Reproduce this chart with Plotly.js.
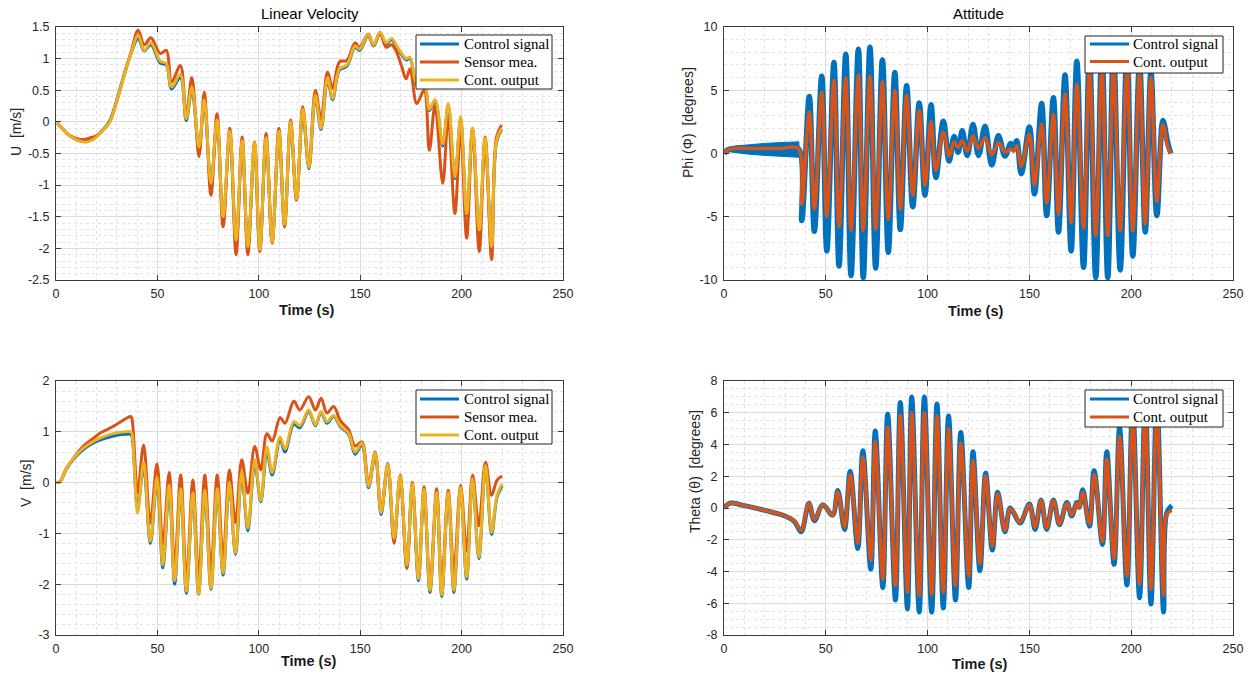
<!DOCTYPE html>
<html><head><meta charset="utf-8">
<script src="https://cdn.plot.ly/plotly-3.0.1.min.js"></script>
<style>html,body{margin:0;padding:0;background:#fff;}#chart{width:1252px;height:675px;}</style>
</head><body><div id="chart"></div>
<script>
// ---------- Linear velocity U ----------
const tU = [0,3,6,10,13.5,17,20,23,26.5,30,33.5,37,40.5,43.5,46.8,51.4,54.4,57,61.3,64.2,67,70.5,73.1,76.4,79.4,82.4,85.7,88.8,91.8,94.6,97.9,100.5,103.6,106.6,109.9,112.7,115.7,118.6,121.7,124.7,127.9,130.7,133.9,136.4,139.8,143.4,147.5,149.7,154,156.6,159.8,162.8,165.5,168,170.5,172.6,174.6,177.9,181.5,184.1,186.9,190.7,193.4,196.7,199.5,202.5,205.4,208.7,211.6,214.8,217.2,219.7];
const uSen = [0,-0.1,-0.2,-0.26,-0.28,-0.25,-0.22,-0.14,0.0,0.33,
 0.72,1.1,1.45,1.22,1.33,1.08,1.13,0.63,0.89,0.1,
 0.7,-0.55,0.47,-1.16,0.13,-1.66,-0.1,-2.1,-0.24,-2.1,
 -0.32,-2.05,-0.18,-1.92,-0.1,-1.66,0.03,-1.24,0.24,-0.71,
 0.5,0.05,0.79,0.53,0.95,0.97,1.25,1.18,1.39,1.21,
 1.4,1.18,1.22,1.1,0.87,0.68,0.84,0.29,0.5,-0.45,
 0.26,-0.97,0.08,-1.45,-0.13,-1.84,-0.1,-2.05,-0.24,-2.18,
 -0.24,-0.05];
const uOut = [0,-0.1,-0.2,-0.28,-0.32,-0.3,-0.24,-0.14,0.0,0.33,
 0.72,1.08,1.37,1.13,1.25,0.96,0.92,0.55,0.75,0.05,
 0.55,-0.4,0.35,-0.97,0.03,-1.5,-0.15,-1.87,-0.3,-1.97,
 -0.33,-2.02,-0.25,-1.9,-0.15,-1.62,0.0,-1.22,0.2,-0.72,
 0.42,-0.1,0.7,0.37,0.84,0.9,1.2,1.15,1.38,1.22,
 1.42,1.25,1.32,1.2,1.08,1.0,1.02,0.6,0.62,0.2,
 0.35,-0.35,0.29,-0.87,0.08,-1.45,-0.1,-1.71,-0.26,-1.97,
 -0.3,-0.1];
const uCtl = [0,-0.1,-0.2,-0.28,-0.31,-0.29,-0.23,-0.13,0.02,0.35,
 0.74,1.08,1.32,1.12,1.22,0.93,0.9,0.52,0.7,0.02,
 0.5,-0.42,0.3,-0.98,0.0,-1.52,-0.2,-1.9,-0.35,-2.0,
 -0.38,-2.03,-0.3,-1.9,-0.2,-1.63,-0.05,-1.22,0.15,-0.74,
 0.38,-0.12,0.66,0.35,0.82,0.88,1.18,1.13,1.36,1.2,
 1.4,1.23,1.3,1.18,1.06,0.98,1.0,0.58,0.6,0.18,
 0.33,-0.38,0.26,-0.9,0.05,-1.48,-0.13,-1.74,-0.29,-1.99,
 -0.32,-0.12];

// ---------- Linear velocity V ----------
const tV = [0,2,5,9,13.5,18,22,26,30,34,36.8,37.4,40.2,43.2,46.5,49.8,52.7,55.8,58.5,61.5,64.3,67.5,70.3,73.4,76.4,79.5,82.4,85.5,88.5,91.6,94.6,98.0,101.0,104.0,106.6,110.5,112.9,117.3,120.2,124.6,127.9,130.7,133.6,136.9,140.2,144.3,147.5,150.8,154.1,157.4,160.3,163.6,166.7,169.7,173,175.7,178.7,181.5,184.4,187.7,190.2,193.4,196.2,199.5,202.5,205.4,208.5,211.8,214.8,217.5,220];
const vSen = [0,0.02,0.27,0.5,0.72,0.86,0.98,1.06,1.15,1.25,
 1.3,1.27,-0.2,0.74,-0.8,0.37,-1.22,0.2,-1.65,0.15,
 -1.91,0.05,-1.88,0.15,-1.72,0.15,-1.5,0.25,-0.79,0.45,
 -0.21,0.71,0.25,0.96,0.82,1.28,1.17,1.6,1.43,1.69,
 1.43,1.66,1.37,1.5,1.22,1.04,0.72,0.8,-0.02,0.6,
 -0.55,0.38,-1.2,0.15,-1.69,0.0,-1.85,-0.08,-2.05,-0.12,
 -2.05,-0.15,-1.75,-0.05,-1.35,0.15,-0.85,0.4,-0.25,0.05,
 0.13];
const vOut = [0,0.02,0.27,0.5,0.68,0.8,0.88,0.94,0.98,1.0,
 1.0,0.97,-0.6,0.4,-1.16,0.1,-1.62,-0.05,-1.93,-0.12,
 -2.14,-0.2,-2.2,-0.15,-2.08,-0.12,-1.78,0.0,-1.39,0.22,
 -0.9,0.45,-0.35,0.7,0.2,0.9,0.66,1.2,1.12,1.43,
 1.14,1.4,1.2,1.32,1.12,0.97,0.6,0.78,-0.07,0.59,
 -0.59,0.36,-1.1,0.13,-1.62,-0.03,-1.89,-0.13,-2.12,-0.2,
 -2.21,-0.2,-2.12,-0.1,-1.86,0.07,-1.47,0.33,-0.98,-0.25,
 -0.03];
const vCtl = [0,0.02,0.26,0.48,0.65,0.77,0.84,0.89,0.93,0.95,
 0.95,0.92,-0.5,0.3,-1.2,0.02,-1.68,-0.12,-2.0,-0.18,
 -2.18,-0.25,-2.2,-0.2,-2.1,-0.18,-1.82,-0.05,-1.42,0.15,
 -0.95,0.38,-0.38,0.62,0.15,0.85,0.6,1.15,1.08,1.4,
 1.12,1.38,1.17,1.3,1.1,0.95,0.56,0.74,-0.1,0.55,
 -0.63,0.32,-1.14,0.1,-1.66,-0.06,-1.93,-0.16,-2.16,-0.23,
 -2.24,-0.23,-2.16,-0.13,-1.9,0.04,-1.5,0.3,-1.02,-0.28,
 -0.06];

// ---------- Attitude Phi ----------
const tPhi = [0,2,5,12,20,28,36.5,38.2,41.9,44.4,48.0,50.5,54.0,56.5,59.8,62.4,66.0,68.4,71.7,74.5,77.8,80.7,83.9,86.6,89.7,92.7,95.9,98.7,101.7,104.1,107.7,110.6,113,115,117,119.5,122.3,125,128.2,131.5,134.8,138,140.8,142.2,143.8,146,150,152.5,156,158.5,161.8,164.3,167.5,170.5,173.3,176.6,179.5,182.6,185.6,188.5,191.3,194.6,197.9,200.8,204.1,206.9,209.7,212.6,215.6,218,219.5];
const phiOut = [0,0.3,0.4,0.4,0.4,0.4,0.4,-4.0,3.3,-4.4,
 4.85,-5.0,5.8,-5.8,6.0,-6.1,6.2,-6.1,6.1,-6.0,
 5.7,-5.2,5.0,-4.4,4.6,-3.3,3.4,-2.5,2.5,-1.35,
 1.7,-0.2,0.9,0.5,1.0,0.2,1.4,0.4,1.25,-0.1,
 0.85,0.1,0.35,0.2,0.6,-1.0,1.5,-2.5,2.3,-3.9,
 3.1,-4.8,4.7,-5.5,5.5,-5.9,6.6,-6.5,6.7,-6.5,
 6.7,-6.1,6.6,-6.1,6.4,-5.6,6.0,-3.8,2.3,0.5,
 0.0];
const phiCtl = [0,0.3,0.4,0.4,0.4,0.4,0.4,-5.3,4.5,-6.15,
 6.1,-7.7,7.2,-8.9,7.85,-9.65,8.25,-9.8,8.4,-9.05,
 7.4,-7.8,6.4,-6.0,5.35,-4.2,4.0,-3.3,3.85,-1.9,
 2.55,-0.6,1.35,0.1,1.8,-0.15,2.3,-0.15,2.15,-0.9,
 1.4,-0.2,0.8,0.3,1.0,-1.6,2.1,-3.2,3.95,-4.9,
 4.4,-6.2,6.2,-7.7,7.3,-9.0,7.9,-9.8,8.3,-9.8,
 8.2,-9.2,7.8,-8.1,7.2,-6.2,6.4,-4.9,2.6,0.8,
 0.0];
// initial chatter envelope of the control signal
const tBand = [0,2,6,12,20,30,36.8];
const bandHi = [0,0.4,0.6,0.7,0.8,0.88,0.92];
const bandLo = [0,0.15,0.05,-0.05,-0.15,-0.25,-0.3];

// ---------- Attitude Theta ----------
const tTh = [0,2.8,10,20,30,34.6,37.9,41.7,44.4,48.5,53.4,55.9,59.2,62,65.7,68.2,72.1,74.3,78,80.4,84.2,86.6,90.1,92.2,95.9,98.4,102,104.6,107.7,110.3,113.7,116.3,120.2,122.3,125.7,128.5,131.8,134.4,138,140.5,142.5,145.4,150,152.8,155.7,158.5,161.8,164.8,168.4,170.8,173.3,174.5,176.2,179.5,181.8,185.9,188,191.6,194.3,197.9,200.7,204.1,206.9,209.7,212.6,215.9,217.5,220];
const thOut = [0,0.3,0.15,-0.15,-0.5,-0.8,-1.4,0.3,-0.75,0.2,
 -0.45,1.0,-1.2,2.1,-2.2,3.2,-3.3,4.2,-4.5,5.1,
 -4.9,5.85,-5.3,6.0,-5.5,6.0,-5.45,5.8,-5.3,5.0,
 -4.9,4.1,-4.3,3.0,-3.5,2.0,-2.4,0.9,-1.4,-0.05,
 -0.3,-0.9,0.2,-1.2,0.45,-1.25,0.45,-1.0,0.3,-0.45,
 0.3,0.0,1.0,-1.0,2.1,-2.1,3.1,-3.2,4.5,-4.3,
 5.8,-4.8,6.2,-5.1,6.2,-5.5,-0.4,-0.15];
const thCtl = [0,0.3,0.15,-0.15,-0.5,-0.85,-1.5,0.3,-0.8,0.2,
 -0.45,1.1,-1.35,2.3,-2.55,3.6,-3.85,4.85,-5.0,5.9,
 -5.8,6.65,-6.35,7.0,-6.55,7.0,-6.55,6.55,-6.3,5.8,
 -5.8,4.75,-5.0,3.55,-3.95,2.2,-2.65,1.0,-1.5,0.0,
 -0.35,-0.95,0.25,-1.35,0.5,-1.35,0.5,-1.05,0.35,-0.5,
 0.35,0.05,1.15,-1.15,2.35,-2.3,3.55,-3.55,5.05,-4.85,
 6.6,-5.65,7.0,-6.05,7.1,-6.55,-0.3,0.15];

// ---------- ticks ----------
const xTicks = [0,50,100,150,200,250];
const uTicks = [-2.5,-2,-1.5,-1,-0.5,0,0.5,1,1.5];
const vTicks = [-3,-2,-1,0,1,2];
const phiTicks = [-10,-5,0,5,10];
const thTicks = [-8,-6,-4,-2,0,2,4,6,8];

const seriesNames3 = ['Control signal','Sensor mea.','Cont. output'];
const seriesNames2 = ['Control signal','Cont. output'];

// ---------- styling / layout ----------
const W = 1252, H = 675;
const BLUE = '#0072BD', RED = '#D95319', YEL = '#EDB120';
const px = x => x / W, py = y => 1 - y / H;
const SANS = 'Liberation Sans, Arial, Helvetica, sans-serif';
const SERIF = 'Liberation Serif, Times New Roman, serif';

function tr(x, y, color, width, xa, ya) {
  return {type:'scatter', mode:'lines', x:x, y:y, xaxis:xa, yaxis:ya,
    line:{color:color, width:width, shape:'spline', smoothing:1},
    showlegend:false, hoverinfo:'skip'};
}
const bandX = tBand.concat(tBand.slice().reverse());
const bandY = bandHi.concat(bandLo.slice().reverse());

const data = [
  tr(tU, uCtl, BLUE, 3, 'x', 'y'),
  tr(tU, uSen, RED, 3, 'x', 'y'),
  tr(tU, uOut, YEL, 3, 'x', 'y'),
  {type:'scatter', mode:'lines', x:bandX, y:bandY, xaxis:'x2', yaxis:'y2', fill:'toself',
   fillcolor:BLUE, line:{color:BLUE, width:1}, showlegend:false, hoverinfo:'skip'},
  tr(tPhi, phiCtl, BLUE, 5.5, 'x2', 'y2'),
  tr(tPhi, phiOut, RED, 3.5, 'x2', 'y2'),
  tr(tV, vCtl, BLUE, 3, 'x3', 'y3'),
  tr(tV, vSen, RED, 3, 'x3', 'y3'),
  tr(tV, vOut, YEL, 3, 'x3', 'y3'),
  tr(tTh, thCtl, BLUE, 5, 'x4', 'y4'),
  tr(tTh, thOut, RED, 3.5, 'x4', 'y4')
];

function axis(domain, range, ticks, minorD, anchor) {
  return {domain:domain, range:range, anchor:anchor, tickmode:'array', tickvals:ticks,
    ticktext:ticks.map(String), showline:true, linecolor:'#3c3c3c', linewidth:1,
    mirror:'ticks', ticks:'inside', ticklen:5, tickcolor:'#3c3c3c', tickwidth:1,
    showgrid:true, gridcolor:'#dcdcdc', gridwidth:1, zeroline:false,
    tickfont:{family:SANS, size:12.5, color:'#262626'},
    minor:{tickmode:'linear', tick0:0, dtick:minorD, showgrid:true, gridcolor:'#e2e2e2',
      griddash:'dot', gridwidth:1},
    fixedrange:true};
}
const XL = [px(56), px(563)], XR = [px(724), px(1233)];
const YT = [py(280), py(27)], YB = [py(635), py(381)];

const layout = {
  width:W, height:H, margin:{l:0, r:0, t:0, b:0}, paper_bgcolor:'#fff', plot_bgcolor:'#fff',
  showlegend:false,
  xaxis: Object.assign(axis(XL, [0,250], xTicks, 10, 'y'), {ticklabelstandoff:2}),
  yaxis: Object.assign(axis(YT, [-2.5,1.5], uTicks, 0.1, 'x'), {ticklabelstandoff:3}),
  xaxis2: Object.assign(axis(XR, [0,250], xTicks, 10, 'y2'), {ticklabelstandoff:2}),
  yaxis2: Object.assign(axis(YT, [-10,10], phiTicks, 1, 'x2'), {ticklabelstandoff:3}),
  xaxis3: Object.assign(axis(XL, [0,250], xTicks, 10, 'y3'), {ticklabelstandoff:2}),
  yaxis3: Object.assign(axis(YB, [-3,2], vTicks, 0.2, 'x3'), {ticklabelstandoff:3}),
  xaxis4: Object.assign(axis(XR, [0,250], xTicks, 10, 'y4'), {ticklabelstandoff:2}),
  yaxis4: Object.assign(axis(YB, [-8,8], thTicks, 0.5, 'x4'), {ticklabelstandoff:3}),
  shapes: [], annotations: []
};

function ann(text, x, y, opts) {
  layout.annotations.push(Object.assign({text:text, x:px(x), y:py(y), xref:'paper', yref:'paper',
    showarrow:false, xanchor:'center', yanchor:'middle',
    font:{family:SANS, size:14, color:'#262626'}}, opts || {}));
}
// titles
ann('Linear Velocity', 310, 14, {font:{family:SANS, size:15, color:'#000'}});
ann('Attitude', 978, 14, {font:{family:SANS, size:15, color:'#000'}});
// x titles
const tfont = {family:SANS, size:14.5, color:'#1a1a1a'};
ann('<b>Time (s)</b>', 307, 310, {font:tfont});
ann('<b>Time (s)</b>', 976, 311, {font:tfont});
ann('<b>Time (s)</b>', 309, 661, {font:tfont});
ann('<b>Time (s)</b>', 980, 664, {font:tfont});
// y titles
ann('U\u00a0\u00a0[m/s]', 16, 132, {textangle:-90});
ann('Phi (\u03a6)\u00a0\u00a0[degrees]', 688, 123, {textangle:-90});
ann('V\u00a0\u00a0[m/s]', 26, 484, {textangle:-90});
ann('Theta (\u03b8)\u00a0\u00a0[degrees]', 695, 472, {textangle:-90});

// legends
function legend(x0, y0, x1, y1, rows, names, colors, lx0, lx1, tx) {
  layout.shapes.push({type:'rect', xref:'paper', yref:'paper', x0:px(x0), x1:px(x1), y0:py(y1), y1:py(y0),
    fillcolor:'#fff', line:{color:'#222', width:1}, layer:'above'});
  names.forEach((n, i) => {
    layout.shapes.push({type:'line', xref:'paper', yref:'paper', x0:px(lx0), x1:px(lx1), y0:py(rows[i]), y1:py(rows[i]),
      line:{color:colors[i], width:3}, layer:'above'});
    ann(n, tx, rows[i], {xanchor:'left', font:{family:SERIF, size:15, color:'#000'}});
  });
}
legend(416, 35, 552, 89, [44, 62, 80], seriesNames3, [BLUE, RED, YEL], 420, 459, 462);
legend(1085, 36, 1223, 73, [44, 61.5], seriesNames2, [BLUE, RED], 1090, 1129, 1131);
legend(416, 390, 552, 444, [399, 417, 435], seriesNames3, [BLUE, RED, YEL], 420, 459, 462);
legend(1085, 390, 1223, 427, [399, 417], seriesNames2, [BLUE, RED], 1090, 1129, 1131);

Plotly.newPlot('chart', data, layout, {staticPlot:true, displayModeBar:false});
</script></body></html>
